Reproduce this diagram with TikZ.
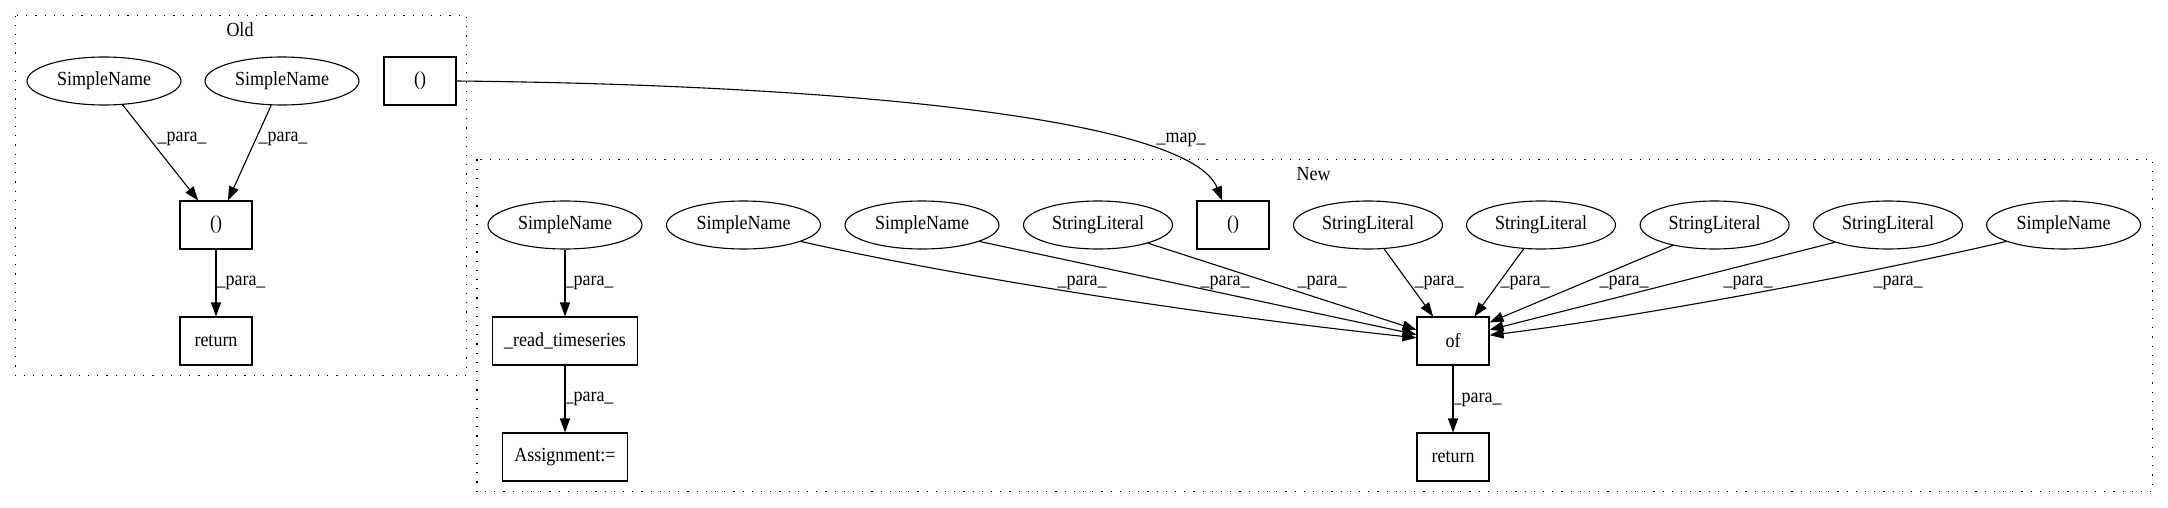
\documentclass[tikz,border=0pt]{standalone}
\usepackage{fontspec}
\setmainfont{Liberation Serif}[FakeStretch=0.9]
\usetikzlibrary{arrows.meta,shapes.geometric}
\begin{document}
\begin{tikzpicture}[x=1pt,y=-1pt,
  every node/.style={font=\fontsize{20}{24}\selectfont},
  ell/.style={draw,ellipse,line width=1.1pt,inner sep=0pt,minimum width=154pt,minimum height=48pt},
  sl/.style={ell,minimum width=149pt},
  box/.style={draw,rectangle,line width=1.1pt,inner sep=0pt,minimum width=72pt,minimum height=48pt},
  edge/.style={line width=1.1pt,-{Triangle[length=14pt,width=10pt]}},
  lbl/.style={inner sep=0pt},
  clus/.style={line width=1.2pt,dash pattern=on 1.2pt off 8pt}]
\useasboundingbox (0,0) rectangle (2168,508);
% clusters
\draw[clus] (15.6,15.7) rectangle (466.5,375.7);
\node[lbl] (oldlbl) at (240,30) {Old};
\draw[clus] (477,159.3) rectangle (2152.5,491.7);
\node[lbl] (newlbl) at (1313.5,174) {New};
% Old nodes
\node[ell] (osn1) at (104,81) {SimpleName};
\node[ell] (osn2) at (282,81) {SimpleName};
\node[box] (obox1) at (420,81) {()};
\node[box] (obox2) at (216,225) {()};
\node[box] (oret) at (216,341) {return};
% New nodes
\node[ell] (nsn1) at (565,225) {SimpleName};
\node[box,minimum width=145pt] (nread) at (565,341) {\_read\_timeseries};
\node[box,minimum width=125pt] (nassign) at (565,457) {Assignment:=};
\node[ell] (nsn2) at (743.5,225) {SimpleName};
\node[ell] (nsn3) at (922,225) {SimpleName};
\node[sl] (nsl1) at (1098,225) {StringLiteral};
\node[box] (nbox) at (1233,225) {()};
\node[sl] (nsl2) at (1368,225) {StringLiteral};
\node[sl] (nsl3) at (1541,225) {StringLiteral};
\node[sl] (nsl4) at (1714.6,225) {StringLiteral};
\node[sl] (nsl5) at (1888,225) {StringLiteral};
\node[ell] (nsn4) at (2063.6,225) {SimpleName};
\node[box] (nof) at (1453,341) {of};
\node[box] (nret) at (1453,457) {return};
% Old edges
\draw[edge] (osn1.308) -- (obox2.126);
\node[lbl] (l1) at (182,139) {\_para\_};
\draw[edge] (osn2.246) -- (obox2.64);
\node[lbl] (l2) at (283,139) {\_para\_};
\draw[edge] (obox2.south) -- (oret.north);
\node[lbl] (l3) at (241,283) {\_para\_};
% map edge
\draw[edge] (obox1.east) .. controls +(394,4) and +(-32,-81) .. (nbox.114.6);
\node[lbl] (lmap) at (1181,140) {\_map\_};
% New edges
\draw[edge] (nsn1.south) -- (nread.north);
\node[lbl] (l4) at (589,283) {\_para\_};
\draw[edge] (nread.south) -- (nassign.north);
\node[lbl] (l5) at (589,399) {\_para\_};
\draw[edge] (nof.south) -- (nret.north);
\node[lbl] (l6) at (1477,400) {\_para\_};
% edges into "of"
\draw[edge] (nsn2.344) .. controls +(150,34) and +(-217,-23) .. (nof.175);
\node[lbl] (l7) at (1082,283) {\_para\_};
\draw[edge] (nsn3.344) -- (nof.170.8);
\node[lbl] (l8) at (1225,283) {\_para\_};
\draw[edge] (nsl1.340.6) -- (nof.163.4);
\node[lbl] (l9) at (1322,283) {\_para\_};
\draw[edge] (nsl2.304.8) -- (nof.129.5);
\node[lbl] (l10) at (1439,283) {\_para\_};
\draw[edge] (nsl3.234.7) -- (nof.49.2);
\node[lbl] (l11) at (1525,283) {\_para\_};
\draw[edge] (nsl4.206.5) -- (nof.27.8);
\node[lbl] (l12) at (1624,283) {\_para\_};
\draw[edge] (nsl5.198.4) -- (nof.17);
\node[lbl] (l13) at (1748,283) {\_para\_};
\draw[edge] (nsn4.196.5) .. controls +(-124,29) and +(161,-20) .. (nof.9.5);
\node[lbl] (l14) at (1898,283) {\_para\_};
\end{tikzpicture}
\end{document}
